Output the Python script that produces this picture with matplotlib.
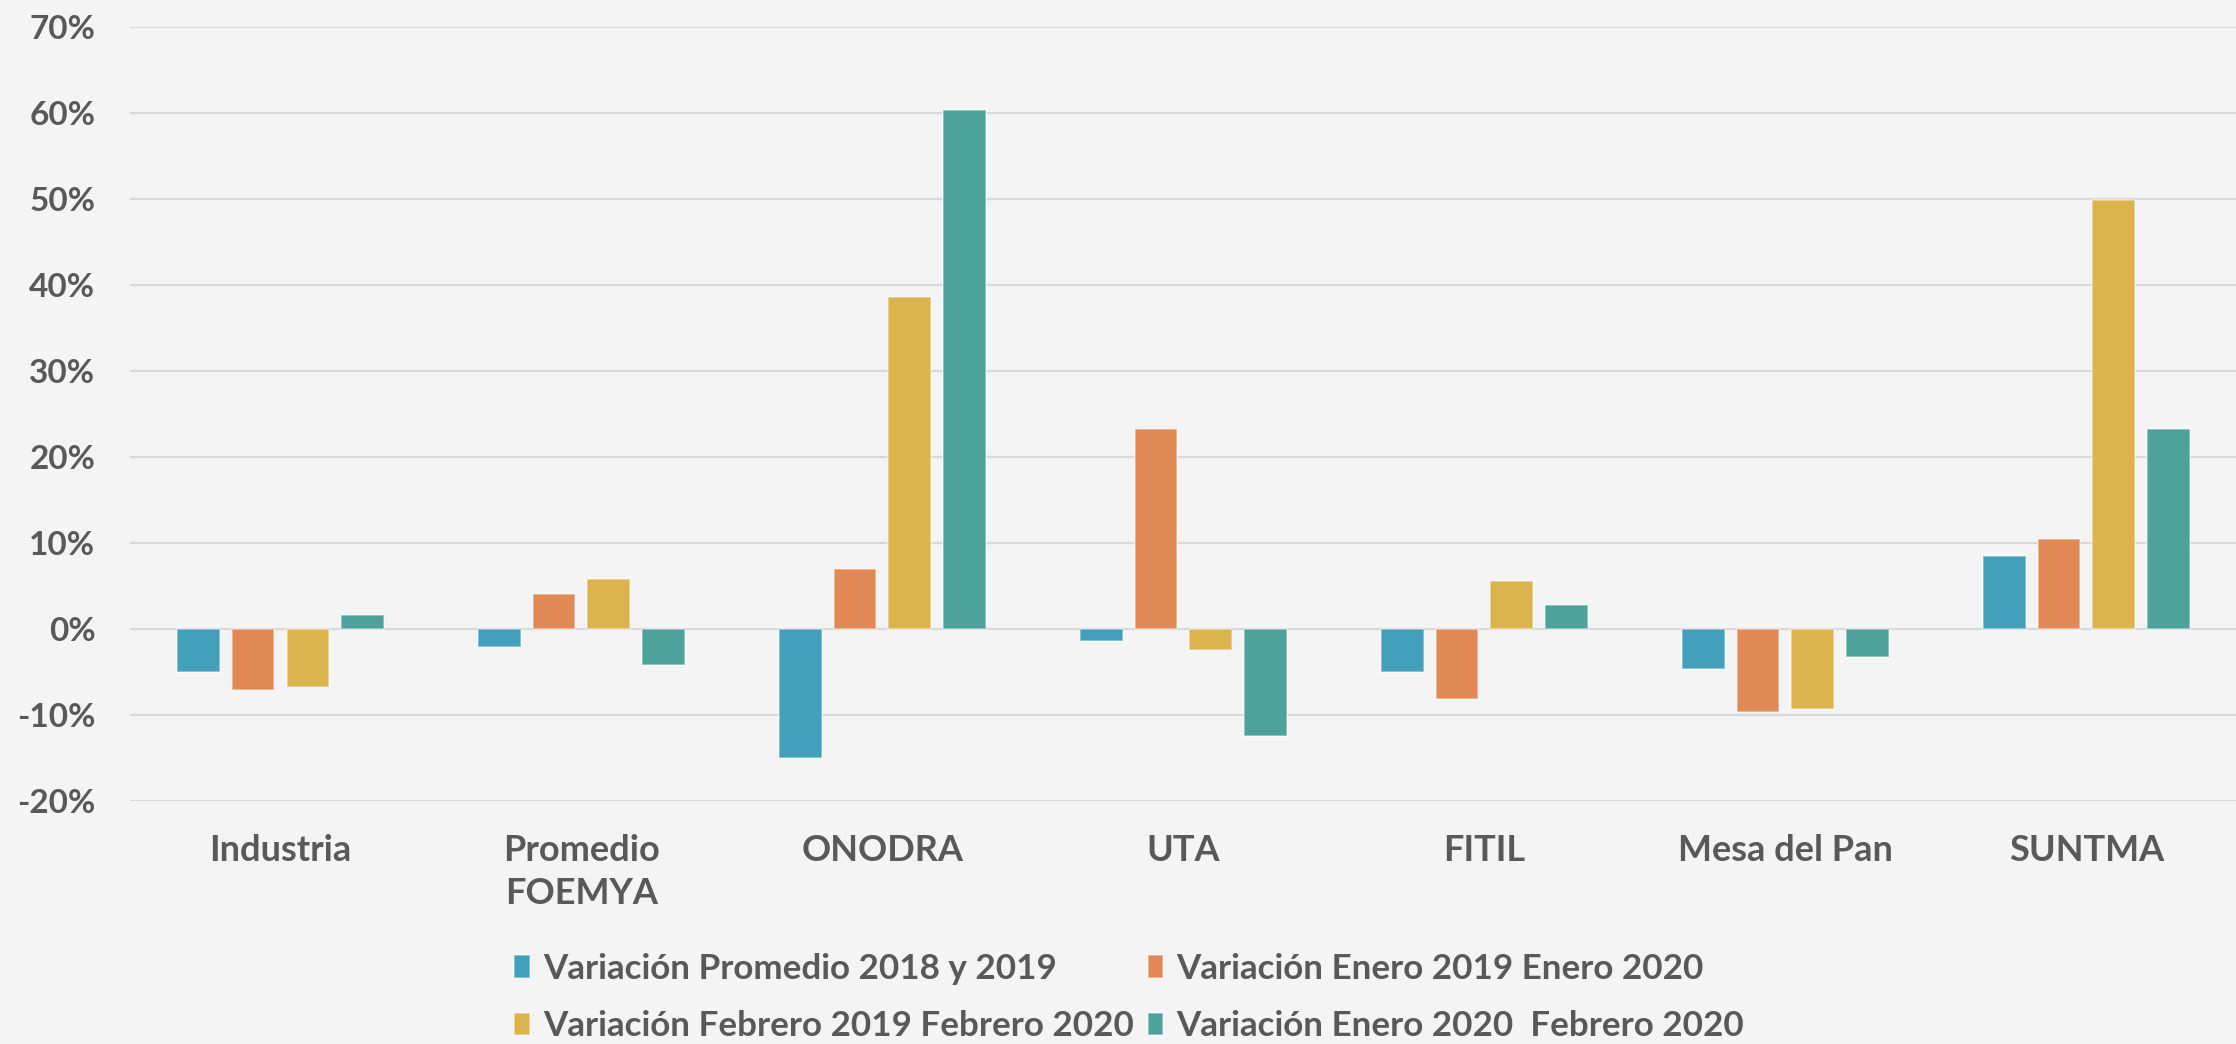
import numpy as np
import matplotlib.pyplot as plt
from matplotlib.ticker import FuncFormatter

categories = ["Industria", "Promedio\nFOEMYA", "ONODRA", "UTA", "FITIL", "Mesa del Pan", "SUNTMA"]
series_names = [
    "Variación Promedio 2018 y 2019",
    "Variación Enero 2019 Enero 2020",
    "Variación Febrero 2019 Febrero 2020",
    "Variación Enero 2020  Febrero 2020",
]
# values in percent
var_prom_2018_2019 = [-4.96, -2.05, -15.0, -1.43, -5.04, -4.65, 8.53]
var_ene19_ene20 = [-7.13, 4.07, 6.94, 23.3, -8.14, -9.69, 10.5]
var_feb19_feb20 = [-6.74, 5.81, 38.6, -2.48, 5.58, -9.34, 49.9]
var_ene20_feb20 = [1.59, -4.19, 60.3, -12.4, 2.79, -3.26, 23.3]

colors = ["#43A0BA", "#E28A56", "#DCB44E", "#4DA39A"]
text_color = "#595959"
bg = "#F4F4F4"
font = ["Lato", "DejaVu Sans"]


def main():
    plt.rcParams["font.family"] = font
    plt.rcParams["font.weight"] = "bold"

    fig = plt.figure(figsize=(22.36, 10.44), dpi=100, facecolor=bg)
    ax = fig.add_axes([130 / 2236, 0.2328, 1 - 130 / 2236, 0.7414], facecolor=bg)

    x = np.arange(len(categories))
    pitch = 0.182
    width = 0.142
    all_series = [var_prom_2018_2019, var_ene19_ene20, var_feb19_feb20, var_ene20_feb20]
    bars = []
    for i, (vals, name) in enumerate(zip(all_series, series_names)):
        b = ax.bar(
            x + (i - 1.5) * pitch,
            np.array(vals) / 100.0,
            width,
            color=colors[i],
            edgecolor=(1, 1, 1, 0.45),
            linewidth=1.2,
            label=name,
            zorder=3,
        )
        bars.append(b)

    ax.set_xlim(-0.5, 6.497)
    ax.set_ylim(-0.2, 0.7)
    ax.set_yticks(np.arange(-0.2, 0.71, 0.1))
    ax.yaxis.set_major_formatter(FuncFormatter(lambda v, _: f"{v * 100:.0f}%"))
    ax.grid(axis="y", color="#D9D9D9", linewidth=1.6, zorder=0)
    ax.set_axisbelow(True)
    for s in ax.spines.values():
        s.set_visible(False)

    ax.set_xticks(x)
    ax.set_xticklabels(categories, linespacing=1.37)
    ax.tick_params(axis="x", length=0, pad=24, labelsize=26, labelcolor=text_color)
    ax.tick_params(axis="y", length=0, pad=25, labelsize=24, labelcolor=text_color)

    order = [0, 2, 1, 3]
    fig.legend(
        [bars[k] for k in order],
        [series_names[k] for k in order],
        loc="center",
        bbox_to_anchor=(0.505, 0.0445),
        ncol=2,
        frameon=False,
        fontsize=25.2,
        labelcolor=text_color,
        handlelength=0.45,
        handleheight=0.6,
        handletextpad=0.37,
        columnspacing=0.4,
        labelspacing=0.72,
    )

    fig.savefig("out.png", dpi=100, facecolor=bg)


if __name__ == "__main__":
    main()
